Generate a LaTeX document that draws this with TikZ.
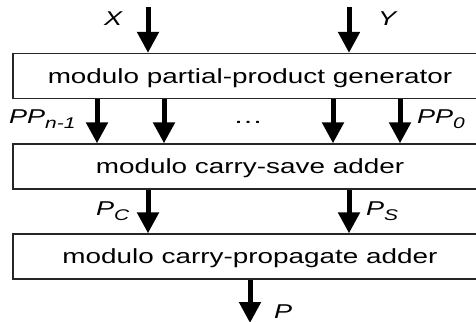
\documentclass[tikz,border=0pt]{standalone}
\usepackage{fontspec}
\setmainfont{Liberation Sans}
\usepackage{graphicx}
\usetikzlibrary{arrows.meta,calc}

% wide sans text used in the blocks and labels
\newcommand{\blocktext}[1]{{\fontsize{20.5}{22}\selectfont\scalebox{1.36}[1]{#1}}}
\newcommand{\sigtext}[2]{{\fontsize{20}{22}\selectfont\itshape\scalebox{1.35}[1]{#1\raisebox{-0.28em}{\fontsize{15.5}{16}\selectfont #2}}}}

\tikzset{
  block/.style={draw=black!85, line width=1.3pt, fill=white,
    minimum width=474pt, minimum height=45pt, inner sep=0pt,
    text height=16pt, text depth=2pt},
  flow/.style={line width=5pt,
    -{Triangle[width=21pt,length=21pt]}},
  sig/.style={anchor=base west, inner sep=0pt}
}

\begin{document}
\begin{tikzpicture}[x=1pt,y=-1pt]
  \clip (0,0) rectangle (476,321);
  \fill[white] (0,0) rectangle (476,321);

  % the three stages
  \node[block] (gen) at (250,76)    {\blocktext{modulo partial-product generator}};
  \node[block] (csa) at (250,166.5) {\blocktext{modulo carry-save adder}};
  \node[block] (cpa) at (250,256.5) {\blocktext{modulo carry-propagate adder}};

  % column positions of the arrows
  \coordinate (cx) at (148,7);
  \coordinate (cy) at (349,7);
  \coordinate (c1) at (97,0);
  \coordinate (c2) at (164,0);
  \coordinate (c3) at (333,0);
  \coordinate (c4) at (400,0);
  \coordinate (out) at (250,323);

  % operands into the generator
  \draw[flow] (cx) -- (cx |- gen.north);
  \draw[flow] (cy) -- (cy |- gen.north);

  % partial products into the carry-save adder
  \foreach \c in {c1,c2,c3,c4}
    \draw[flow] (\c |- gen.south) -- (\c |- csa.north);

  % carry and sum vectors into the carry-propagate adder
  \draw[flow] (cx |- csa.south) -- (cx |- cpa.north);
  \draw[flow] (cy |- csa.south) -- (cy |- cpa.north);

  % product
  \draw[flow] (out |- cpa.south) -- (out);

  % signal labels
  \node[sig] (lx)  at (104,26)  {\sigtext{X}{}};
  \node[sig] (ly)  at (378,26)  {\sigtext{Y}{}};
  \node[sig] (lpn) at (9,123)   {\sigtext{PP}{n-1}};
  \node[sig] (lp0) at (417,123) {\sigtext{PP}{0}};
  \node[anchor=base, inner sep=0pt] (dots) at (248,123)
    {\fontsize{20}{22}\selectfont\scalebox{1.5}[1]{\dots}};
  \node[sig] (lpc) at (96,215)  {\sigtext{P}{C}};
  \node[sig] (lps) at (366,215) {\sigtext{P}{S}};
  \node[sig] (lp)  at (274,318) {\sigtext{P}{}};
\end{tikzpicture}
\end{document}
